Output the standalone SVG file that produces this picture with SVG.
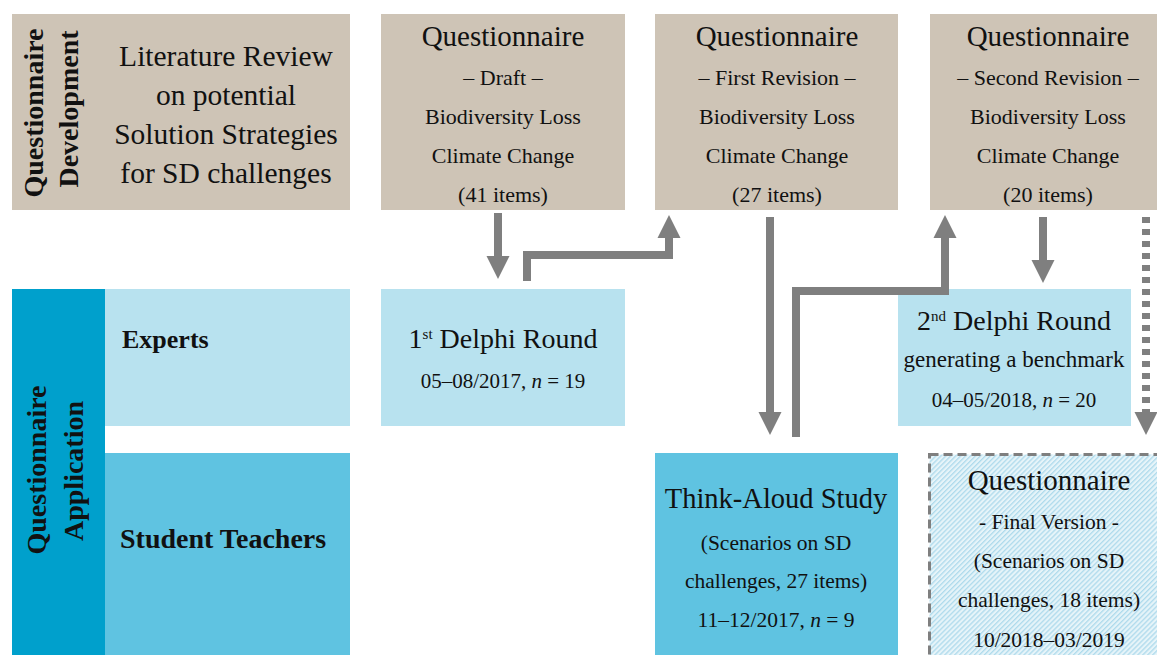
<svg xmlns="http://www.w3.org/2000/svg" width="1157" height="655" viewBox="0 0 1157 655">
<style>
.tan{fill:#cec4b6}
.lb{fill:#b8e2ef}
.mb{fill:#5fc3e1}
.db{fill:#00a0cc}
text{font-family:"Liberation Serif","Times New Roman",serif;fill:#111}
.t{font-size:29px;text-anchor:middle}
.s{font-size:22px;text-anchor:middle}
.d{font-size:21px;text-anchor:middle}
.b{font-weight:bold}
.v{font-size:28px;font-weight:bold;text-anchor:middle}
.arr{fill:none;stroke:#7f7f7f;stroke-width:8}
</style>
<defs>
<marker id="ah" markerUnits="userSpaceOnUse" markerWidth="24" markerHeight="24" refX="0" refY="12" orient="auto" viewBox="0 0 24 24">
<path d="M0,0.5 L23,12 L0,23.5 z" fill="#7f7f7f"/>
</marker>
<pattern id="hatch" patternUnits="userSpaceOnUse" width="3.5" height="3.5" patternTransform="rotate(45)">
<rect width="3.5" height="3.5" fill="#e6f4f9"/>
<rect width="1.3" height="3.5" fill="#aedaec"/>
</pattern>
</defs>

<g id="lit-review">
<rect class="tan" x="12" y="14" width="338" height="196"/>
<text class="v" transform="translate(43,113) rotate(-90)">Questionnaire</text>
<text class="v" transform="translate(78,109) rotate(-90)">Development</text>
<text class="t" x="226" y="66" style="font-size:29.5px">Literature Review</text>
<text class="t" x="226" y="105" style="font-size:29.5px">on potential</text>
<text class="t" x="226" y="144" style="font-size:29.5px">Solution Strategies</text>
<text class="t" x="226" y="183" style="font-size:29.5px">for SD challenges</text>
</g>

<g id="q-draft">
<rect class="tan" x="381" y="14" width="244" height="196"/>
<text class="t" x="503" y="46">Questionnaire</text>
<text class="s" x="503" y="85">– Draft –</text>
<text class="s" x="503" y="124">Biodiversity Loss</text>
<text class="s" x="503" y="163">Climate Change</text>
<text class="s" x="503" y="202">(41 items)</text>
</g>

<g id="q-first">
<rect class="tan" x="655" y="14" width="243" height="196"/>
<text class="t" x="777" y="46">Questionnaire</text>
<text class="s" x="777" y="85">– First Revision –</text>
<text class="s" x="777" y="124">Biodiversity Loss</text>
<text class="s" x="777" y="163">Climate Change</text>
<text class="s" x="777" y="202">(27 items)</text>
</g>

<g id="q-second">
<rect class="tan" x="930" y="14" width="236" height="196"/>
<text class="t" x="1048" y="46">Questionnaire</text>
<text class="s" x="1048" y="85">– Second Revision –</text>
<text class="s" x="1048" y="124">Biodiversity Loss</text>
<text class="s" x="1048" y="163">Climate Change</text>
<text class="s" x="1048" y="202">(20 items)</text>
</g>

<g id="application">
<rect class="db" x="12" y="289" width="93" height="366"/>
<text class="v" transform="translate(46,470) rotate(-90)">Questionnaire</text>
<text class="v" transform="translate(83,471) rotate(-90)">Application</text>
</g>

<g id="experts">
<rect class="lb" x="105" y="289" width="245" height="137"/>
<text class="b" x="122" y="348" style="font-size:26px">Experts</text>
</g>

<g id="students">
<rect class="mb" x="105" y="453" width="245" height="202"/>
<text class="b" x="120" y="548" style="font-size:28px">Student Teachers</text>
</g>

<g id="delphi1">
<rect class="lb" x="381" y="289" width="244" height="137"/>
<text class="t" x="503" y="348" style="font-size:28px">1<tspan font-size="15" dy="-9">st</tspan><tspan dy="9"> Delphi Round</tspan></text>
<text class="d" x="503" y="388">05–08/2017, <tspan font-style="italic">n</tspan> = 19</text>
</g>

<g id="think-aloud">
<rect class="mb" x="655" y="453" width="243" height="202"/>
<text class="t" x="776" y="508" style="font-size:28.5px">Think-Aloud Study</text>
<text class="s" x="776" y="550" style="font-size:21.5px">(Scenarios on SD</text>
<text class="s" x="776" y="588" style="font-size:21.5px">challenges, 27 items)</text>
<text class="s" x="776" y="627" style="font-size:21.5px">11–12/2017, <tspan font-style="italic">n</tspan> = 9</text>
</g>

<g id="delphi2">
<rect class="lb" x="898" y="289" width="233" height="137"/>
<text class="t" x="1014" y="330" style="font-size:28px">2<tspan font-size="15" dy="-9">nd</tspan><tspan dy="9"> Delphi Round</tspan></text>
<text class="s" x="1014" y="367" style="font-size:23px">generating a benchmark</text>
<text class="d" x="1014" y="407">04–05/2018, <tspan font-style="italic">n</tspan> = 20</text>
</g>

<g id="final">
<rect x="929.5" y="454.5" width="240" height="210" fill="url(#hatch)" stroke="#7f7f7f" stroke-width="3" stroke-dasharray="9 5"/>
<text class="t" x="1049" y="490">Questionnaire</text>
<text class="s" x="1049" y="529" style="font-size:21.5px">- Final Version -</text>
<text class="s" x="1049" y="568" style="font-size:21.5px">(Scenarios on SD</text>
<text class="s" x="1049" y="607" style="font-size:21.5px">challenges, 18 items)</text>
<text class="s" x="1049" y="647" style="font-size:21.5px">10/2018–03/2019</text>
</g>

<g id="connectors">
<path class="arr" d="M498,213 V256" marker-end="url(#ah)"/>
<path class="arr" d="M527,281 V255 H669 V238" marker-end="url(#ah)"/>
<path class="arr" d="M770,217 V412" marker-end="url(#ah)"/>
<path class="arr" d="M796,437 V291 H945 V238" marker-end="url(#ah)"/>
<path class="arr" d="M1043,217 V260" marker-end="url(#ah)"/>
<path class="arr" d="M1146,217 V412" stroke-dasharray="6 6" marker-end="url(#ah)"/>
</g>
</svg>
